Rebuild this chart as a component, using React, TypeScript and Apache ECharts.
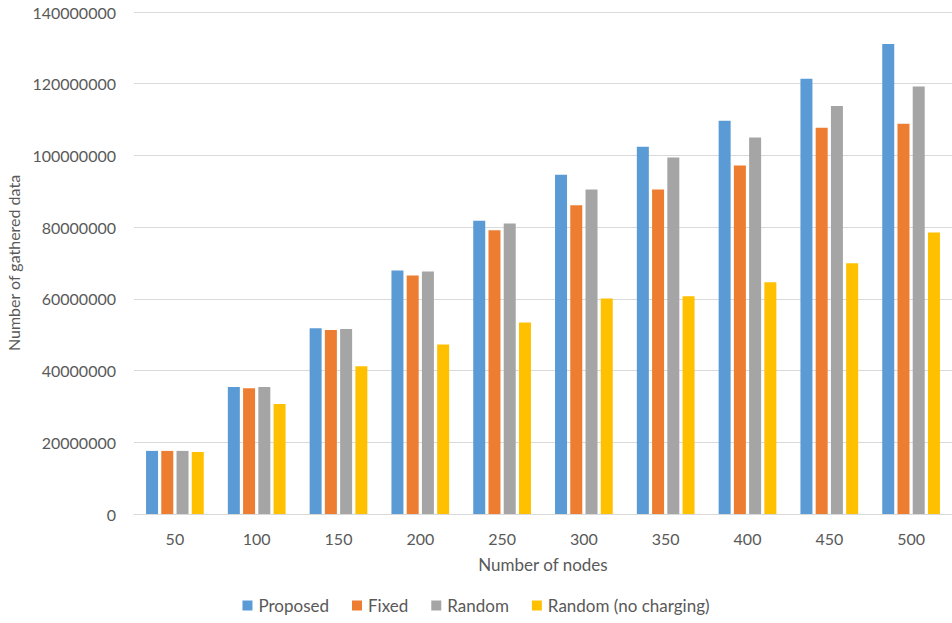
import React, { useEffect, useRef } from "react";
import * as echarts from "echarts";

const categories = ["50", "100", "150", "200", "250", "300", "350", "400", "450", "500"];
const proposed = [17600000, 35400000, 51800000, 67900000, 81800000, 94600000, 102400000, 109700000, 121400000, 131100000];
const fixed = [17600000, 35100000, 51300000, 66500000, 79100000, 86100000, 90500000, 97200000, 107700000, 108800000];
const randomV = [17600000, 35400000, 51600000, 67600000, 81000000, 90500000, 99400000, 105000000, 113800000, 119200000];
const randomNoCharging = [17300000, 30700000, 41200000, 47300000, 53400000, 60100000, 60700000, 64600000, 69900000, 78500000];
const seriesNames = ["Proposed", "Fixed", "Random", "Random (no charging)"];
const colors = ["#5B9BD5", "#ED7D31", "#A5A5A5", "#FFC000"];

export default function App() {
  const ref = useRef<HTMLDivElement>(null);
  useEffect(() => {
    if (!ref.current) return;
    const chart = echarts.init(ref.current, undefined, { renderer: "svg" });
    const font = "Lato, 'Liberation Sans', sans-serif";
    const data = [proposed, fixed, randomV, randomNoCharging];
    chart.setOption({
      animation: false,
      color: colors,
      textStyle: { fontFamily: font },
      grid: { left: 134, right: 0, top: 12, bottom: 109, containLabel: false, outerBoundsMode: "none" },
      legend: {
        bottom: 4,
        left: "center",
        itemWidth: 10,
        itemHeight: 10,
        itemGap: 23,
        icon: "rect",
        textStyle: { color: "#595959", fontSize: 17, fontFamily: font, padding: [0, 0, 0, 1] },
        data: seriesNames,
      },
      xAxis: {
        type: "category",
        data: categories,
        name: "Number of nodes",
        nameLocation: "middle",
        nameGap: 42,
        nameTextStyle: { color: "#595959", fontSize: 17, fontFamily: font },
        axisLine: { lineStyle: { color: "#D9D9D9" } },
        axisTick: { show: false },
        axisLabel: { color: "#595959", fontSize: 16, margin: 16, fontFamily: font },
      },
      yAxis: {
        type: "value",
        min: 0,
        max: 140000000,
        interval: 20000000,
        name: "Number of gathered data",
        nameLocation: "middle",
        nameGap: 102,
        nameTextStyle: { color: "#595959", fontSize: 16, fontFamily: font },
        axisLine: { show: false },
        axisTick: { show: false },
        axisLabel: {
          color: "#595959",
          fontSize: 16,
          margin: 18,
          fontFamily: font,
          formatter: (v: number) => String(v),
        },
        splitLine: { lineStyle: { color: "#D9D9D9" } },
      },
      series: seriesNames.map((name, i) => ({
        name,
        type: "bar",
        data: data[i],
        barWidth: 12,
        barGap: "27%",
        itemStyle: { color: colors[i] },
      })),
    });
    return () => chart.dispose();
  }, []);
  return <div ref={ref} style={{ width: 952, height: 623, position: "absolute", left: 0, top: 0 }} />;
}
